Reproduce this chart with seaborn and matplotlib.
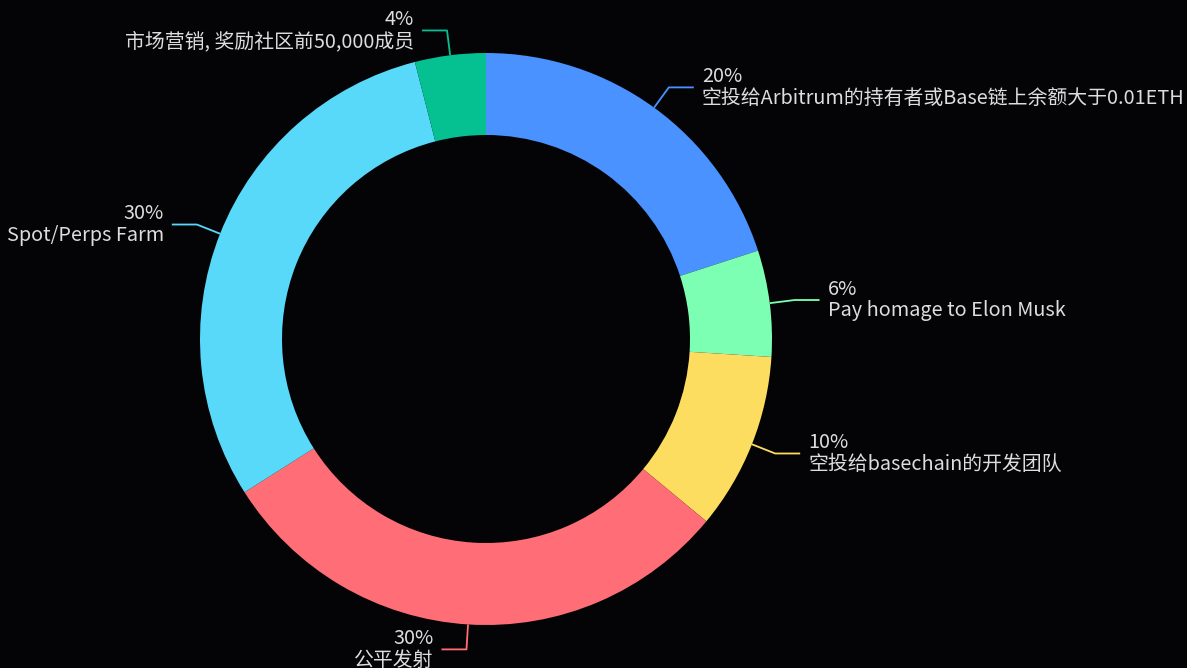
import numpy as np
import matplotlib
matplotlib.use("Agg")
import matplotlib.pyplot as plt
import seaborn as sns

# ---- data ----
names = [
    "空投给Arbitrum的持有者或Base链上余额大于0.01ETH",
    "Pay homage to Elon Musk",
    "空投给basechain的开发团队",
    "公平发射",
    "Spot/Perps Farm",
    "市场营销, 奖励社区前50,000成员",
]
values = [20, 6, 10, 30, 30, 4]
hex_colors = ["#4992ff", "#7cffb2", "#fddd60", "#ff6e76", "#58d9f9", "#05c091"]

# ---- style ----
W, H = 1187, 668
BG = "#040407"
TXT = "#dddddd"
sns.set_theme(style="dark", rc={"figure.facecolor": BG, "axes.facecolor": BG})
plt.rcParams["font.family"] = ["Noto Sans CJK SC", "DejaVu Sans"]
palette = sns.color_palette(hex_colors)

fig = plt.figure(figsize=(W / 100, H / 100), dpi=100)
ax = fig.add_axes([0, 0, 1, 1])
ax.set_xlim(0, W)
ax.set_ylim(0, H)
ax.set_aspect("equal")
ax.axis("off")

cx, cy = 486, H - 339
r_out, r_in = 286, 204

wedges, _ = ax.pie(
    values, colors=palette, startangle=90, counterclock=False,
    radius=r_out, center=(cx, cy), frame=True,
    wedgeprops=dict(width=r_out - r_in, linewidth=0),
)
ax.set_xlim(0, W)
ax.set_ylim(0, H)
ax.axis("off")

total = float(sum(values))
L1, L2, gap = 25, 25, 8
for w, name, v, col in zip(wedges, names, values, palette):
    ang = np.deg2rad((w.theta1 + w.theta2) / 2.0)
    dx, dy = np.cos(ang), np.sin(ang)
    x0, y0 = cx + r_out * dx, cy + r_out * dy
    x1, y1 = x0 + L1 * dx, y0 + L1 * dy
    side = 1 if dx >= 0 else -1
    x2 = x1 + side * L2
    ax.plot([x0, x1, x2], [y0, y1, y1], color=col, lw=1.3, solid_capstyle="butt")
    pct = f"{v / total * 100:.0f}%"
    ha = "left" if side > 0 else "right"
    ax.text(x2 + side * gap, y1, f"{pct}\n{name}", ha=ha, va="center",
            multialignment=ha, color=TXT, fontsize=14.3, linespacing=1.05)

fig.savefig("out.png", dpi=100, facecolor=BG)
